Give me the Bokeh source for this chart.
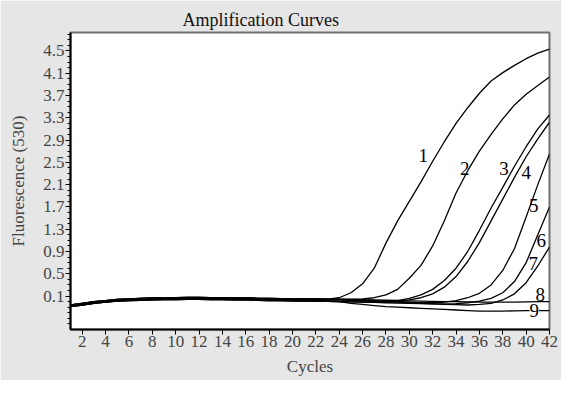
from bokeh.plotting import figure
from bokeh.models import FixedTicker, Range1d, Label
from bokeh.embed import file_html
from bokeh.resources import INLINE

# ---------------- data ----------------
cycles = list(range(1, 43))

base_a = [-0.08, -0.05, -0.02, 0.00, 0.02, 0.03, 0.04, 0.045, 0.05, 0.05, 0.055, 0.055,
          0.05, 0.05, 0.05, 0.045, 0.045, 0.04, 0.04, 0.035, 0.035, 0.03, 0.03, 0.03]
base_b = [-0.06, -0.03, 0.00, 0.02, 0.04, 0.05, 0.06, 0.065, 0.07, 0.07, 0.075, 0.075,
          0.07, 0.07, 0.065, 0.065, 0.06, 0.06, 0.055, 0.055, 0.05, 0.05, 0.045, 0.045]
base_c = [-0.09, -0.06, -0.03, -0.01, 0.01, 0.02, 0.025, 0.03, 0.035, 0.035, 0.04, 0.04,
          0.035, 0.035, 0.03, 0.03, 0.025, 0.02, 0.02, 0.015, 0.01, 0.01, 0.005, 0.0]

curve_1 = base_b[:23] + [0.07, 0.16, 0.32, 0.60, 1.05, 1.45, 1.80, 2.15, 2.52, 2.87,
                         3.20, 3.48, 3.74, 3.96, 4.11, 4.24, 4.36, 4.46, 4.53]
curve_2 = base_a + [0.04, 0.05, 0.07, 0.12, 0.22, 0.42, 0.65, 1.00, 1.45, 1.95, 2.35,
                    2.70, 3.00, 3.28, 3.53, 3.72, 3.88, 4.03]
curve_3 = base_c + [-0.005, -0.01, -0.01, 0.0, 0.02, 0.06, 0.12, 0.22, 0.38, 0.60, 0.90,
                    1.28, 1.68, 2.05, 2.43, 2.78, 3.10, 3.35]
curve_4 = base_a + [0.02, 0.01, 0.0, -0.005, 0.0, 0.03, 0.07, 0.14, 0.26, 0.45, 0.72,
                    1.06, 1.45, 1.84, 2.23, 2.60, 2.92, 3.22]
curve_5 = base_b + [0.04, 0.03, 0.02, 0.01, 0.0, -0.01, -0.02, -0.02, -0.01, 0.02, 0.07,
                    0.15, 0.30, 0.56, 0.95, 1.52, 2.10, 2.65]
curve_6 = base_c + [-0.005, -0.01, -0.015, -0.02, -0.025, -0.03, -0.035, -0.04, -0.04,
                    -0.035, -0.02, 0.01, 0.06, 0.16, 0.36, 0.70, 1.20, 1.70]
curve_7 = base_a + [0.025, 0.02, 0.01, 0.0, -0.01, -0.02, -0.03, -0.04, -0.05, -0.055,
                    -0.06, -0.05, -0.03, 0.03, 0.14, 0.34, 0.64, 0.98]
curve_8 = base_b + [0.04, 0.035, 0.03, 0.025, 0.02, 0.015, 0.01, 0.005, 0.0, 0.0, -0.005,
                    -0.01, -0.01, -0.01, -0.01, -0.005, 0.0, 0.0]
curve_9 = base_c + [-0.03, -0.05, -0.07, -0.09, -0.10, -0.11, -0.12, -0.13, -0.14, -0.15,
                    -0.16, -0.17, -0.17, -0.17, -0.165, -0.16, -0.16, -0.16]

curves = [curve_1, curve_2, curve_3, curve_4, curve_5, curve_6, curve_7, curve_8, curve_9]

curve_names = ["1", "2", "3", "4", "5", "6", "7", "8", "9"]
name_x = [31.2, 34.75, 38.1, 40.0, 40.65, 41.3, 40.6, 41.2, 40.7]
name_y = [2.62, 2.39, 2.39, 2.31, 1.73, 1.10, 0.68, 0.12, -0.16]

x_ticks = [2, 4, 6, 8, 10, 12, 14, 16, 18, 20, 22, 24, 26, 28, 30, 32, 34, 36, 38, 40, 42]
y_ticks = [0.1, 0.5, 0.9, 1.3, 1.7, 2.1, 2.5, 2.9, 3.3, 3.7, 4.1, 4.5]
y_tick_labels = ["0.1", "0.5", "0.9", "1.3", "1.7", "2.1", "2.5", "2.9", "3.3", "3.7", "4.1", "4.5"]

title_text = "Amplification Curves"
x_label = "Cycles"
y_label = "Fluorescence (530)"

# ---------------- figure ----------------
FONT = "Liberation Serif"

p = figure(width=561, height=380, output_backend="svg", toolbar_location=None,
           x_range=Range1d(1, 42), y_range=Range1d(-0.5, 4.83),
           min_border_left=70, min_border_right=12, min_border_top=32,
           min_border_bottom=51, title=title_text)

p.background_fill_color = "white"
p.border_fill_color = "#e6e6e6"
p.outline_line_color = "#707070"
p.outline_line_width = 2
p.grid.visible = False

p.title.text_font = FONT
p.title.text_font_size = "18px"
p.title.text_font_style = "normal"
p.title.text_color = "#111111"
p.title.align = "left"
p.title.offset = 112
p.title.standoff = 6

# x axis
xa = p.xaxis[0]
xa.ticker = FixedTicker(ticks=x_ticks)
xa.axis_label = x_label
xa.axis_label_text_font = FONT
xa.axis_label_text_font_size = "17px"
xa.axis_label_text_font_style = "normal"
xa.axis_label_standoff = 7
xa.major_label_text_font = FONT
xa.major_label_text_font_size = "17px"
xa.major_label_standoff = 1
xa.major_tick_out = 5
xa.major_tick_in = 0
xa.minor_tick_line_color = None
xa.axis_line_width = 2
xa.axis_line_color = "black"
xa.major_tick_line_color = "black"

# y axis
minor = []
for k in range(-4, 49):
    v = round(k * 0.1, 1)
    if v not in y_ticks:
        minor.append(v)
ya = p.yaxis[0]
ya.ticker = FixedTicker(ticks=y_ticks, minor_ticks=minor)
ya.major_label_overrides = {t: s for t, s in zip(y_ticks, y_tick_labels)}
ya.axis_label = y_label
ya.axis_label_text_font = FONT
ya.axis_label_text_font_size = "17px"
ya.axis_label_text_font_style = "normal"
ya.axis_label_standoff = 12
ya.major_label_text_font = FONT
ya.major_label_text_font_size = "17px"
ya.major_label_standoff = 1
ya.major_tick_out = 5
ya.major_tick_in = 0
ya.minor_tick_out = 3
ya.minor_tick_in = 0
ya.axis_line_width = 2
ya.axis_line_color = "black"
ya.major_tick_line_color = "black"
ya.minor_tick_line_color = "black"

for c in curves:
    p.line(cycles, c, line_color="black", line_width=1.3)

for name, lx, ly in zip(curve_names, name_x, name_y):
    bg = "white" if name == "9" else None
    p.add_layout(Label(x=lx, y=ly, text=name, text_align="center", text_baseline="middle",
                       text_font=FONT, text_font_size="19px", text_color="black",
                       background_fill_color=bg))

open("out.html", "w").write(file_html(p, INLINE))
